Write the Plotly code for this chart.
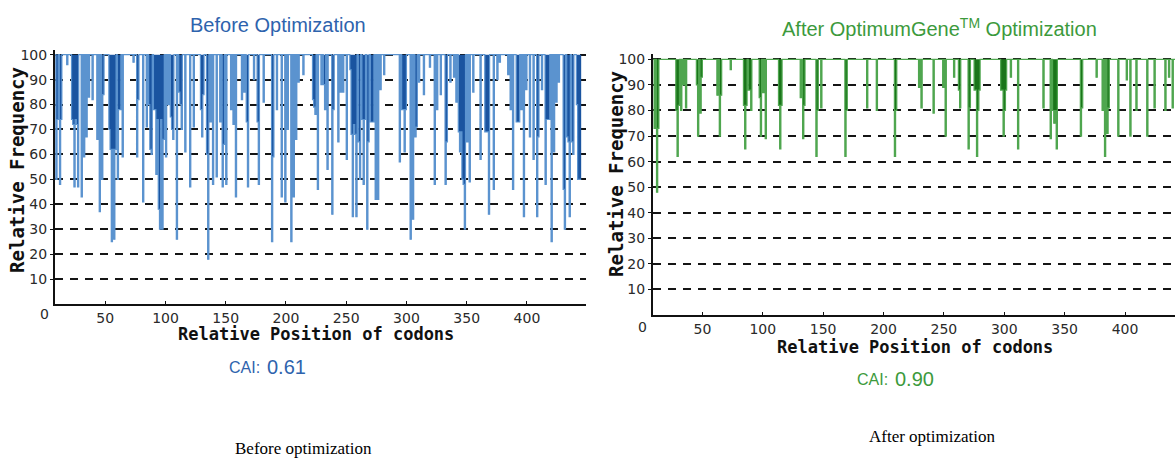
import plotly.graph_objects as go

W, H = 1175, 460
N_CODONS = 445
BASELINE = 100

# ---- data: codon position -> relative frequency (dips below 100) ----
before_pos = [9, 10, 12, 13, 18, 22, 23, 24, 25, 26, 27, 30, 32, 34, 36, 39, 43, 45, 47, 48,
              53, 54, 55, 56, 57, 58, 60, 61, 62, 64, 73, 76, 77, 81, 84, 86, 87, 88, 90, 91,
              92, 93, 94, 95, 96, 97, 98, 100, 102, 104, 105, 106, 109, 111, 112, 113, 116, 120, 123, 129,
              130, 131, 134, 135, 137, 139, 142, 145, 147, 148, 150, 154, 156, 158, 163, 165, 167, 168, 173, 176,
              177, 181, 188, 189, 192, 196, 199, 201, 204, 206, 208, 210, 214, 222, 223, 224, 226, 229, 231, 232,
              234, 238, 239, 243, 245, 247, 250, 253, 254, 255, 256, 257, 258, 260, 261, 263, 264, 265, 267, 268,
              270, 271, 272, 274, 276, 278, 281, 294, 296, 297, 298, 299, 303, 305, 307, 308, 310, 314, 319, 323,
              325, 328, 332, 333, 336, 339, 341, 343, 344, 345, 346, 347, 348, 350, 352, 355, 361, 365, 366, 367,
              368, 372, 375, 377, 384, 386, 388, 391, 392, 393, 395, 397, 399, 402, 405, 408, 409, 412, 415, 416,
              417, 418, 420, 422, 424, 426, 430, 431, 433, 434, 435, 437, 438, 441, 442, 443, 444, 445]
before_val = [50, 74, 48, 74, 96, 74, 72, 47, 74, 72, 47, 43, 59, 67, 83, 82, 66, 37, 50, 84,
              70, 62, 25, 62, 26, 62, 50, 78, 78, 59, 97, 59, 82, 41, 71, 80, 62, 60, 78, 78,
              52, 74, 38, 30, 74, 30, 66, 59, 80, 75, 70, 66, 26, 85, 80, 70, 61, 47, 71, 78,
              67, 84, 60, 18, 73, 48, 51, 73, 47, 64, 48, 78, 72, 43, 82, 85, 73, 47, 90, 73,
              48, 81, 25, 59, 78, 43, 41, 70, 25, 43, 66, 89, 92, 82, 79, 76, 46, 88, 88, 78,
              54, 36, 78, 65, 85, 85, 58, 94, 68, 35, 72, 68, 35, 65, 50, 74, 48, 74, 30, 65,
              73, 73, 73, 42, 42, 86, 92, 57, 78, 78, 61, 78, 26, 34, 67, 71, 89, 84, 95, 48,
              78, 84, 48, 65, 89, 91, 81, 69, 61, 69, 50, 48, 30, 65, 49, 85, 58, 69, 69, 69,
              36, 46, 90, 97, 92, 78, 46, 73, 73, 73, 78, 35, 86, 67, 58, 35, 67, 86, 48, 74,
              74, 74, 25, 61, 81, 89, 46, 30, 67, 65, 35, 65, 60, 80, 50, 50, 50, 50]

after_pos = [10, 12, 13, 28, 29, 30, 32, 34, 36, 45, 46, 48, 49, 62, 64, 65, 73, 84, 85, 86,
             88, 89, 90, 97, 98, 100, 102, 113, 114, 115, 131, 133, 134, 144, 145, 148, 168, 169, 186, 194,
             209, 210, 229, 231, 241, 249, 251, 258, 262, 263, 270, 271, 275, 276, 277, 278, 279, 297, 298, 299,
             300, 301, 305, 311, 332, 338, 340, 341, 342, 343, 363, 364, 376, 381, 383, 385, 386, 394, 401, 404,
             409, 418, 424, 433, 436, 439]
after_val = [73, 48, 73, 80, 62, 82, 80, 90, 81, 90, 70, 79, 93, 86, 70, 86, 96, 82, 65, 82,
             88, 88, 80, 85, 70, 87, 69, 82, 65, 82, 85, 69, 82, 62, 80, 81, 62, 80, 81, 80,
             62, 80, 89, 81, 79, 89, 70, 93, 88, 81, 65, 81, 88, 88, 62, 80, 88, 88, 88, 70,
             80, 88, 93, 65, 81, 69, 80, 75, 80, 65, 70, 81, 93, 80, 62, 71, 81, 70, 92, 70,
             80, 70, 81, 80, 93, 81]

y_ticks = [10, 20, 30, 40, 50, 60, 70, 80, 90, 100]
y_ticks_heavy = [30, 40, 80, 90]
x_ticks = [50, 100, 150, 200, 250, 300, 350, 400]
cai_before = "0.61"
cai_after = "0.90"


def series(pos, val):
    ys = [BASELINE] * N_CODONS
    for p, v in zip(pos, val):
        ys[p - 1] = v
    xs = list(range(1, N_CODONS + 1))
    return xs, ys


bx, by = series(before_pos, before_val)
ax_, ay = series(after_pos, after_val)

fig = go.Figure()

# left panel
fig.add_trace(go.Scatter(x=bx, y=[BASELINE] * N_CODONS, mode="lines", line=dict(width=0, color="rgba(0,0,0,0)"),
                         hoverinfo="skip", showlegend=False, xaxis="x", yaxis="y"))
fig.add_trace(go.Scatter(x=bx, y=by, mode="lines", line=dict(color="#5b93cf", width=1.2, shape="hv"),
                         fill="tonexty", fillcolor="#1a54a0", showlegend=False, xaxis="x", yaxis="y"))
# right panel
fig.add_trace(go.Scatter(x=ax_, y=[BASELINE] * N_CODONS, mode="lines", line=dict(width=0, color="rgba(0,0,0,0)"),
                         hoverinfo="skip", showlegend=False, xaxis="x2", yaxis="y2"))
fig.add_trace(go.Scatter(x=ax_, y=ay, mode="lines", line=dict(color="#4fa64f", width=1.2, shape="hv"),
                         fill="tonexty", fillcolor="#1a751a", showlegend=False, xaxis="x2", yaxis="y2"))

tickfont = dict(family="DejaVu Sans", size=14, color="#2a2a2a")


def px(x):
    return x / W


def py(y):
    return (H - y) / H


common_y = dict(range=[0, 102], tickvals=y_ticks, showgrid=True, gridcolor="#151515", griddash="8px,7px",
                gridwidth=2, showline=True, linecolor="#111", linewidth=2, ticks="outside", ticklen=3,
                tickcolor="#111", tickfont=tickfont, zeroline=False, fixedrange=True)
common_x = dict(tickvals=x_ticks, showgrid=False, showline=True, linecolor="#111", linewidth=2,
                ticks="inside", ticklen=3, tickcolor="#111", tickfont=tickfont, zeroline=False, fixedrange=True)

fig.update_layout(
    width=W, height=H, margin=dict(l=0, r=0, t=0, b=0),
    paper_bgcolor="white", plot_bgcolor="white", showlegend=False,
    xaxis=dict(domain=[px(55), px(586)], range=[8.3, 449], anchor="y", **common_x),
    yaxis=dict(domain=[py(303), py(47)], anchor="x", **common_y),
    xaxis2=dict(domain=[px(653), 1.0], range=[9.1, 441.4], anchor="y2", **common_x),
    yaxis2=dict(domain=[py(314), py(51.6)], anchor="x2", **common_y),
    yaxis3=dict(domain=[py(314), py(51.6)], range=[0, 102], anchor="x2", overlaying="y2",
                tickvals=y_ticks_heavy, showticklabels=False, showgrid=True, gridcolor="#000",
                griddash="9px,6px", gridwidth=3, showline=False, zeroline=False, fixedrange=True),
)

ann = []


def text(x, y, s, size, color, family="Liberation Sans", anchor="center", **kw):
    ann.append(dict(x=px(x), y=py(y), xref="paper", yref="paper", text=s, showarrow=False,
                    font=dict(family=family, size=size, color=color), xanchor=anchor, yanchor="middle", **kw))


BLUE = "#2e63ad"
GREEN = "#3c9a3c"
text(278, 22, "Before Optimization", 20, BLUE)
text(939, 25, "After OptimumGene<sup>TM</sup> Optimization", 20, GREEN)
text(44, 313, "0", 14, "#2a2a2a", family="DejaVu Sans")
text(642, 326, "0", 14, "#2a2a2a", family="DejaVu Sans")
text(316, 333, "<b>Relative Position of codons</b>", 17, "#111", family="DejaVu Sans Mono")
text(915, 346, "<b>Relative Position of codons</b>", 17, "#111", family="DejaVu Sans Mono")
text(17, 168, "<b>Relative Frequency</b>", 19, "#111", family="DejaVu Sans Mono", textangle=-90)
text(616, 172, "<b>Relative Frequency</b>", 19, "#111", family="DejaVu Sans Mono", textangle=-90)
text(262, 367, "CAI:", 16, BLUE, anchor="right")
text(265, 366, cai_before, 20, BLUE, anchor="left")
text(890, 379, "CAI:", 16, GREEN, anchor="right")
text(893, 378, cai_after, 20, GREEN, anchor="left")
text(303, 448, "Before optimization", 17, "#000", family="Liberation Serif")
text(932, 436, "After optimization", 17, "#000", family="Liberation Serif")

fig.update_layout(annotations=ann)
fig.write_html("out.html")
